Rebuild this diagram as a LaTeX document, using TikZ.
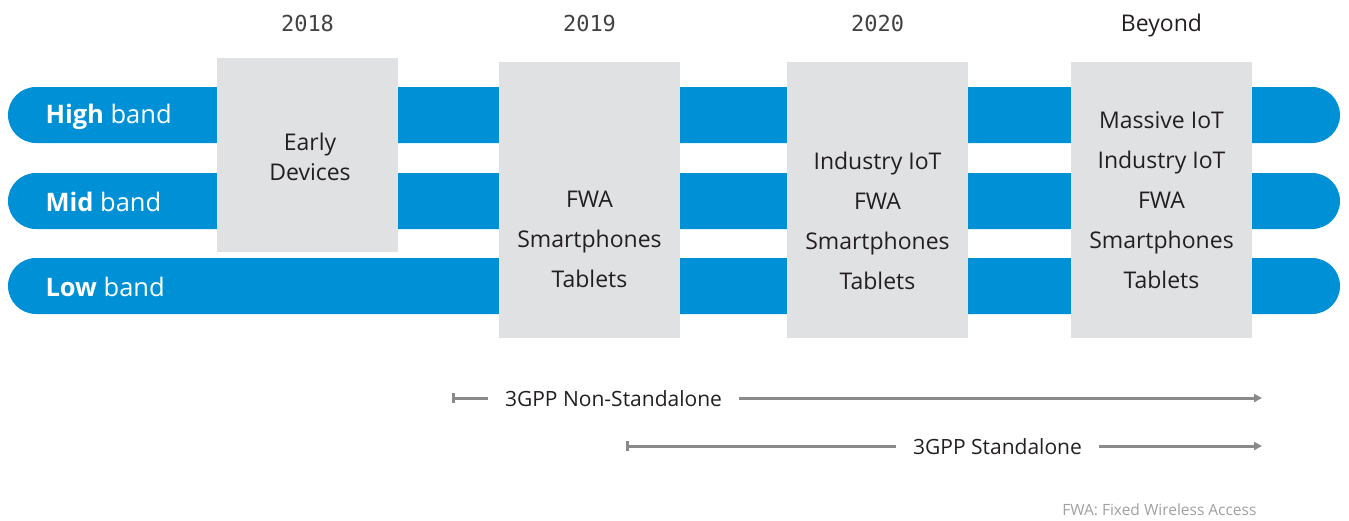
\documentclass[tikz,border=0pt]{standalone}
\usepackage{fontspec}
\setmainfont{Open Sans}
\newfontfamily\yearfont{DejaVu Sans Mono}
\usetikzlibrary{arrows.meta,positioning}
\definecolor{bandblue}{HTML}{0090D6}
\definecolor{boxgray}{HTML}{E0E1E3}
\definecolor{textdark}{HTML}{231F20}
\definecolor{linegray}{HTML}{8A8A8A}
\definecolor{notegray}{HTML}{A0A0A0}

\begin{document}
\begin{tikzpicture}[x=1pt,y=-1pt]
	\tikzstyle{band} = [rectangle, rounded corners=28pt, minimum width=1332pt,
	minimum height=56pt, fill=bandblue, inner sep=0pt]
	\tikzstyle{bandlabel} = [anchor=west, text=white, font=\fontsize{25.5}{28}\selectfont]
	\tikzstyle{period} = [rectangle, minimum width=181pt, fill=boxgray, inner sep=0pt]
	\tikzstyle{usecase} = [align=center, text=textdark, font=\fontsize{23}{40}\selectfont]
	\tikzstyle{year} = [anchor=base, text=textdark!85, font=\yearfont\fontsize{22}{26}\selectfont]
	\tikzstyle{phase} = [text=textdark, inner xsep=17pt, font=\fontsize{21}{24}\selectfont]
	\tikzstyle{timeline} = [line width=3pt, draw=linegray]
	\useasboundingbox (0,0) rectangle (1349,520);
	% bands
	\node (highBand) [band] at (674,115) {};
	\node (midBand) [band] at (674,201) {};
	\node (lowBand) [band] at (674,286) {};
	\node (highLabel) [bandlabel] at (42,117) {\textbf{High} band};
	\node (midLabel) [bandlabel] at (42,202) {\textbf{Mid} band};
	\node (lowLabel) [bandlabel] at (42,287) {\textbf{Low} band};
	% periods
	\node (box2018) [period, minimum height=194pt] at (307.5,155) {};
	\node (box2019) [period, minimum height=276pt] at (589.5,200) {};
	\node (box2020) [period, minimum height=276pt] at (877.5,200) {};
	\node (boxBeyond) [period, minimum height=276pt] at (1161.5,200) {};
	\node (year2018) [year] at (307.5,31) {2018};
	\node (year2019) [year] at (589.5,31) {2019};
	\node (year2020) [year] at (877.5,31) {2020};
	\node (yearBeyond) [anchor=base, text=textdark, font=\fontsize{23}{26}\selectfont] at (1161.5,31) {Beyond};
	\node (uses2018) [usecase, font=\fontsize{23}{30}\selectfont] at (310,157) {Early\\Devices};
	\node (uses2019) [usecase] at (589.5,239) {FWA\\Smartphones\\Tablets};
	\node (uses2020) [usecase] at (877.5,221) {Industry IoT\\FWA\\Smartphones\\Tablets};
	\node (usesBeyond) [usecase] at (1161.5,200) {Massive IoT\\Industry IoT\\FWA\\Smartphones\\Tablets};
	% 3GPP timelines
	\coordinate (nsaStart) at (452,398);
	\coordinate (nsaEnd) at (1262,398);
	\coordinate (saStart) at (626,446);
	\coordinate (saEnd) at (1262,446);
	\node (nsaLabel) [phase] at (613.5,399) {3GPP Non-Standalone};
	\node (saLabel) [phase] at (997.5,447) {3GPP Standalone};
	\draw [timeline, {Bar[width=10pt]}-] (nsaStart) -- (nsaLabel.west |- nsaStart);
	\draw [timeline, -{Triangle[length=8pt,width=8pt]}] (nsaLabel.east |- nsaEnd) -- (nsaEnd);
	\draw [timeline, {Bar[width=10pt]}-] (saStart) -- (saLabel.west |- saStart);
	\draw [timeline, -{Triangle[length=8pt,width=8pt]}] (saLabel.east |- saEnd) -- (saEnd);
	\node (fwaNote) [anchor=east, text=notegray, font=\fontsize{15.5}{18}\selectfont] at (1260,510) {FWA: Fixed Wireless Access};
\end{tikzpicture}
\end{document}
